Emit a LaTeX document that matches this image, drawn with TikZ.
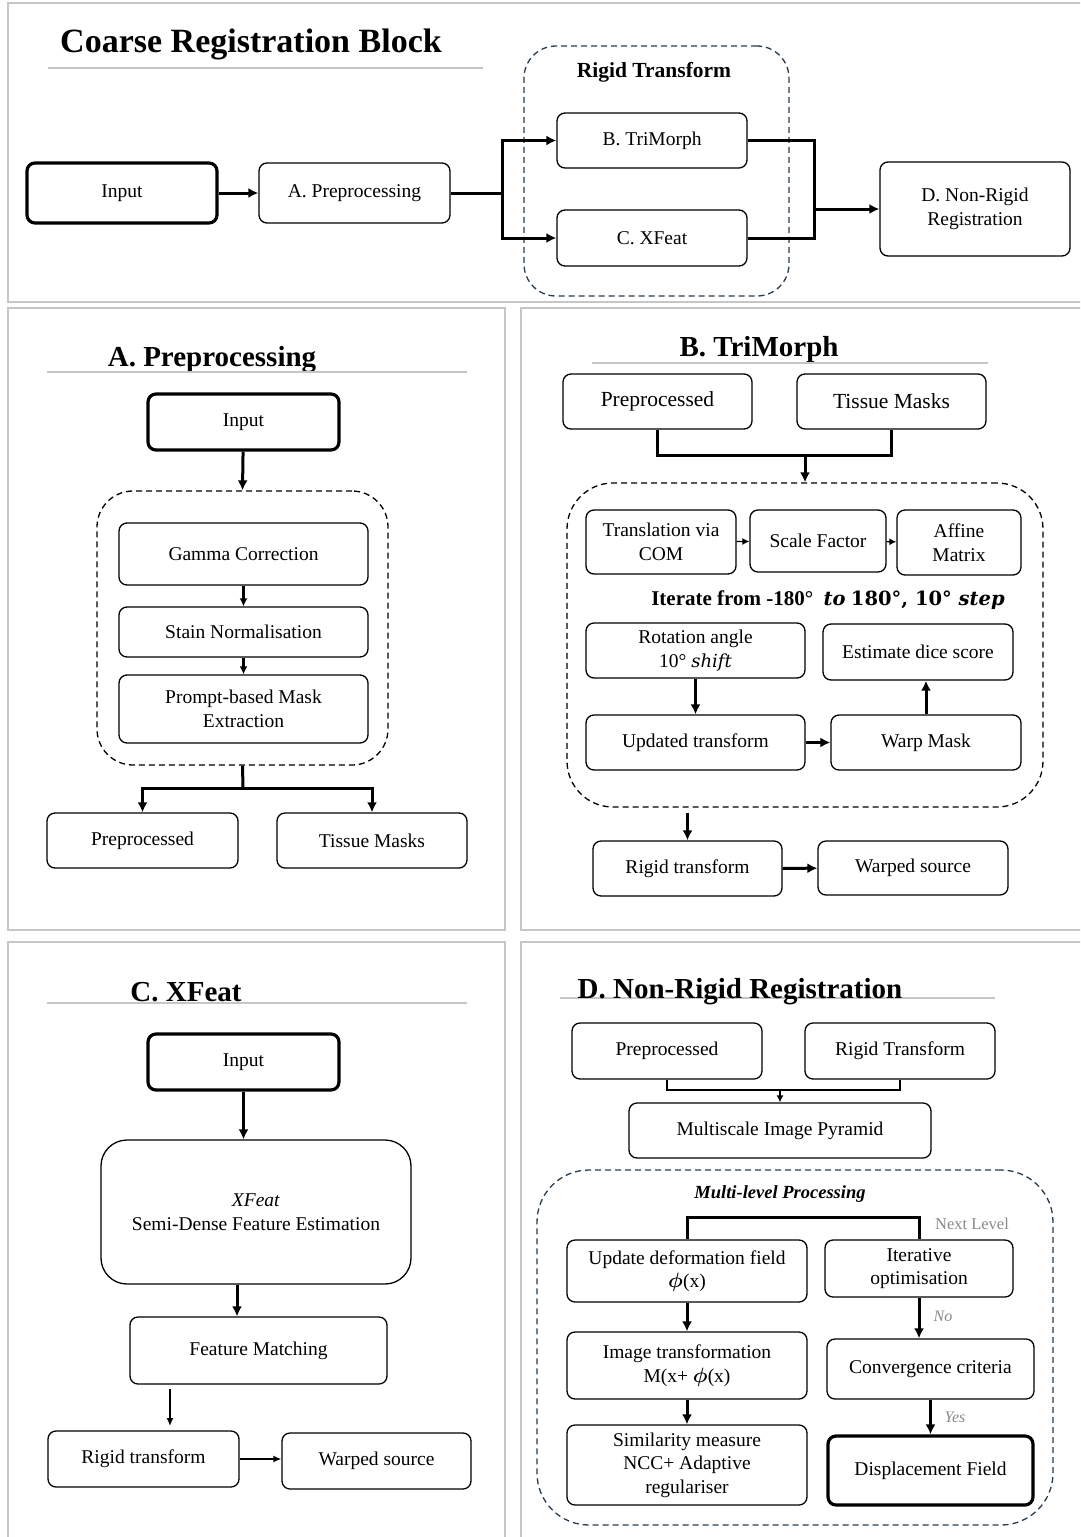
\documentclass[tikz,border=0pt]{standalone}
\usepackage{fontspec}
\setmainfont{Liberation Serif}
\newfontfamily\mathlike{DejaVu Serif}
\usepackage{amsmath}
\usetikzlibrary{arrows.meta,calc}
\definecolor{panelgray}{HTML}{C6C6C6}
\definecolor{slate}{HTML}{263C50}
\definecolor{lbl}{HTML}{8A8A8A}
\newcommand\fsz[2]{\fontsize{#1}{#2}\selectfont}
\begin{document}
\begin{tikzpicture}[x=1pt,y=-1pt,
  box/.style={draw, rounded corners=8pt, line width=1.3pt, align=center, inner sep=2pt, font=\fsz{19.5}{23.5}},
  tbox/.style={box, line width=3.2pt},
  dcont/.style={draw, dash pattern=on 6pt off 4pt, line width=1.3pt, inner sep=0pt},
  scont/.style={dcont, draw=slate},
  arr/.style={-{Latex[length=10pt,width=10pt]}, line width=3pt},
  marr/.style={-{Latex[length=8pt,width=8pt]}, line width=2.2pt},
  sarr/.style={-{Latex[length=7pt,width=7pt]}, line width=1.3pt},
  thk/.style={line width=3pt},
  thn/.style={line width=1.3pt},
  panel/.style={draw=panelgray, line width=2pt},
  uline/.style={draw=panelgray, line width=1.6pt},
  ttl/.style={font=\bfseries\fsz{29}{34}},
  lab/.style={text=lbl, font=\itshape\fsz{16}{19}}
]
\useasboundingbox (0,0) rectangle (1080,1537);
\clip (0,0) rectangle (1080,1537);
\fill[white] (0,0) rectangle (1080,1537);

% ---------- panels ----------
\draw[panel] (8,3) rectangle (1086,302);
\draw[panel] (8,308) rectangle (505,930);
\draw[panel] (521,308) rectangle (1086,930);
\draw[panel] (8,942) rectangle (505,1545);
\draw[panel] (521,942) rectangle (1086,1545);

% ---------- top panel ----------
\node[font=\bfseries\fsz{34}{40}] (t0) at (251,44) {Coarse Registration Block};
\draw[uline] (48,68) -- (483,68);
\node[scont, rounded corners=32pt, minimum width=265, minimum height=250] (rt) at (656.5,171) {};
\node[font=\bfseries\fsz{21.5}{25}] (rtl) at (654,72) {Rigid Transform};
\node[tbox, minimum width=190, minimum height=60] (in0) at (122,193) {Input};
\node[box, minimum width=191, minimum height=60] (ap) at (354.5,193) {A. Preprocessing};
\node[box, minimum width=190, minimum height=55] (bt) at (652,140.5) {B. TriMorph};
\node[box, minimum width=190, minimum height=56] (cx) at (652,238) {C. XFeat};
\node[box, minimum width=190, minimum height=94] (dn) at (975,209) {D. Non-Rigid\\Registration};
\coordinate (s1) at (502,193);
\coordinate (m1) at (814,209);
\draw[arr] (in0) -- (ap);
\draw[thk] (ap.east) -- (s1);
\draw[arr] (s1) |- (bt.west);
\draw[arr] (s1) |- (cx.west);
\draw[thk, line join=miter] (bt.east) -| (m1);
\draw[thk, line join=miter] (cx.east) -| (m1);
\draw[arr] (m1) -- (dn.west);

% ---------- panel A ----------
\node[ttl] (tA) at (212,360) {A. Preprocessing};
\draw[uline] (47,372) -- (467,372);
\node[tbox, minimum width=191, minimum height=56] (inA) at (243.5,422) {Input};
\node[dcont, rounded corners=36pt, minimum width=291, minimum height=274] (cA) at (242.5,628) {};
\node[box, minimum width=249, minimum height=62] (gam) at (243.5,554) {Gamma Correction};
\node[box, minimum width=249, minimum height=50] (stn) at (243.5,632) {Stain Normalisation};
\node[box, minimum width=249, minimum height=68] (pmt) at (243.5,709) {Prompt-based Mask\\Extraction};
\node[box, minimum width=191, minimum height=55] (ppA) at (142.5,840.5) {Preprocessed};
\node[box, minimum width=190, minimum height=55] (tmA) at (372,840.5) {Tissue Masks};
\coordinate (jA) at (243,788);
\draw[arr] (inA) -- (cA.north);
\draw[marr] (gam) -- (stn);
\draw[marr] (stn) -- (pmt);
\draw[thk] (cA.south) -- (jA);
\draw[arr] (jA) -| (ppA.north);
\draw[arr] (jA) -| (tmA.north);

% ---------- panel B ----------
\node[ttl] (tB) at (759,350) {B. TriMorph};
\draw[uline] (592,363) -- (988,363);
\node[box, font=\fsz{21.5}{25}, minimum width=189, minimum height=55] (ppB) at (657.5,401.5) {Preprocessed};
\node[box, font=\fsz{21.5}{25}, minimum width=189, minimum height=55] (tmB) at (891.5,401.5) {Tissue Masks};
\node[dcont, rounded corners=46pt, minimum width=476, minimum height=324] (cB) at (805,645) {};
\coordinate (jB) at (805,455);
\draw[thk, line join=miter] (ppB.south) |- (tmB.south |- jB) -- (tmB.south);
\draw[arr] (jB) -- (cB.north);
\node[box, minimum width=150, minimum height=64] (trn) at (661,542) {Translation via\\COM};
\node[box, minimum width=136, minimum height=62] (scl) at (818,541) {Scale Factor};
\node[box, minimum width=124, minimum height=65] (aff) at (959,542.5) {Affine\\Matrix};
\draw[sarr] (trn) -- (scl);
\draw[sarr] (scl) -- (aff);
\node[font=\bfseries\fsz{21}{25}] (itr) at (828,600) {Iterate from -180°\enspace{\mathlike\fsz{19.5}{24}\itshape to} {\mathlike\fsz{19.5}{24}180°, 10° \itshape step}};
\node[box, minimum width=219, minimum height=55] (rot) at (695.5,650.5) {Rotation angle\\10° {\mathlike\fsz{18}{22}\itshape shift}};
\node[box, minimum width=190, minimum height=56] (est) at (918,652) {Estimate dice score};
\node[box, minimum width=219, minimum height=55] (upd) at (695.5,742.5) {Updated transform};
\node[box, minimum width=190, minimum height=55] (wrp) at (926,742.5) {Warp Mask};
\draw[arr] (rot) -- (upd);
\draw[arr] (upd) -- (wrp);
\draw[arr] (wrp.north) -- (wrp.north |- est.south);
\node[box, minimum width=189, minimum height=55] (rgB) at (687.5,868.5) {Rigid transform};
\node[box, minimum width=190, minimum height=54] (wsB) at (913,868) {Warped source};
\coordinate (bB) at (687.5,813);
\draw[arr] (bB) -- (rgB.north);
\draw[arr] (rgB) -- (wsB);

% ---------- panel C ----------
\node[ttl] (tC) at (186,992) {C. XFeat};
\draw[uline] (47,1003) -- (467,1003);
\node[tbox, minimum width=191, minimum height=56] (inC) at (243.5,1062) {Input};
\node[box, rounded corners=26pt, minimum width=310, minimum height=144] (xf) at (256,1212) {\textit{XFeat}\\Semi-Dense Feature Estimation};
\node[box, minimum width=257, minimum height=67] (fm) at (258.5,1350.5) {Feature Matching};
\node[box, minimum width=191, minimum height=56] (rgC) at (143.5,1459) {Rigid transform};
\node[box, minimum width=189, minimum height=56] (wsC) at (376.5,1461) {Warped source};
\draw[arr] (inC.south) -- (inC.south |- xf.north);
\draw[arr] ([xshift=-19pt]xf.south) -- ([xshift=-19pt]xf.south |- fm.north);
\coordinate (cA1) at (170,1389);
\coordinate (cA2) at (170,1426);
\draw[-{Latex[length=8pt,width=7pt]}, line width=1.5pt] (cA1) -- (cA2);
\draw[-{Latex[length=8pt,width=7pt]}, line width=1.5pt] (rgC.east) -- (rgC.east -| wsC.west);

% ---------- panel D ----------
\draw[uline] (560,998) -- (995,998);
\node[ttl] (tD) at (740,992) {D. Non-Rigid Registration};
\node[box, minimum width=190, minimum height=56] (ppD) at (667,1051) {Preprocessed};
\node[box, minimum width=190, minimum height=56] (rtD) at (900,1051) {Rigid Transform};
\node[box, minimum width=302, minimum height=55] (msp) at (780,1130.5) {Multiscale Image Pyramid};
\coordinate (jD) at (780,1090);
\draw[thn, line join=miter] (ppD.south) |- (rtD.south |- jD) -- (rtD.south);
\draw[sarr] (jD) -- (msp.north);
\node[scont, rounded corners=52pt, minimum width=516, minimum height=355] (cD) at (795,1347.5) {};
\node[font=\bfseries\itshape\fsz{18.5}{22}] (mlp) at (780,1194) {Multi-level Processing};
\node[box, minimum width=240, minimum height=62] (udf) at (687,1271) {Update deformation field\\$\boldsymbol{\phi}$(x)};
\node[box, minimum width=188, minimum height=57] (ito) at (919,1268.5) {Iterative\\optimisation};
\node[box, minimum width=240, minimum height=67] (imt) at (687,1365.5) {Image transformation\\M(x+ $\boldsymbol{\phi}$(x)};
\node[box, minimum width=240, minimum height=80] (sim) at (687,1465) {Similarity measure\\NCC+ Adaptive\\regulariser};
\node[box, minimum width=207, minimum height=60] (cnv) at (930.5,1369) {Convergence criteria};
\node[tbox, minimum width=205, minimum height=69] (dsp) at (930.5,1470.5) {Displacement Field};
\coordinate (nl) at (800,1217);
\draw[thk, line join=miter] (udf.north) |- (nl) -| (ito.north);
\node[text=lbl, font=\fsz{16.5}{19}] (nxt) at (972,1224) {Next Level};
\draw[arr] (udf) -- (imt);
\draw[arr] (imt) -- (sim);
\draw[arr] (ito.south) -- (ito.south |- cnv.north);
\node[lab] (no) at (943,1316) {No};
\draw[arr] (cnv) -- (dsp);
\node[lab] (yes) at (955,1417) {Yes};
\end{tikzpicture}
\end{document}
